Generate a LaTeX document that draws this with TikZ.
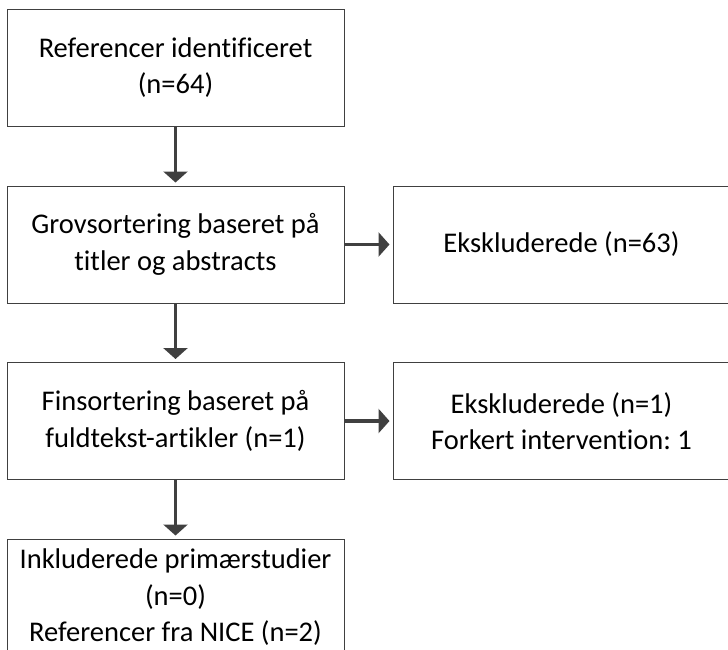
\documentclass[tikz,border=0pt]{standalone}
\usepackage{fontspec}
\setmainfont[Ligatures=NoCommon]{Carlito}
\usetikzlibrary{arrows.meta}
\definecolor{rahmen}{RGB}{64,64,64}
\frenchspacing

\begin{document}
\begin{tikzpicture}[
    kasten/.style={draw=rahmen, line width=1pt, minimum width=337pt, minimum height=117pt,
        align=center, inner sep=0pt, font=\fontsize{28.5}{36.5}\selectfont},
    pfeil/.style={draw=rahmen, line width=3.5pt, -{Triangle[width=24pt,length=11pt]}, shorten >=3pt}
]

        \useasboundingbox (0pt,0pt) rectangle (728pt,-649pt);  %Seitenrand
        \clip (0pt,0pt) rectangle (728pt,-649pt);

        \node[kasten] (ref) at (175.5pt,-67.5pt) {Referencer identificeret\\(n=64)};  %oberer Kasten
        \node[kasten] (grov) at (175.5pt,-244.5pt) {Grovsortering baseret på\\titler og abstracts};
        \node[kasten] (fin) at (175.5pt,-421pt) {Finsortering baseret på\\fuldtekst-artikler (n=1)};
        \node[kasten] (inkl) at (175.5pt,-597.5pt) {Inkluderede primærstudier\\(n=0)\\Referencer fra NICE (n=2)};  %unten abgeschnitten

        \node[kasten] (eks1) at (561.5pt,-244.5pt) {Ekskluderede (n=63)};  %rechts abgeschnitten
        \node[kasten] (eks2) at (561.5pt,-421pt) {Ekskluderede (n=1)\\Forkert intervention: 1};

        \draw[pfeil] (ref) -- (grov);
        \draw[pfeil] (grov) -- (fin);
        \draw[pfeil] (fin) -- (inkl);
        \draw[pfeil] (grov) -- (eks1);
        \draw[pfeil] (fin) -- (eks2);

\end{tikzpicture}
\end{document}
